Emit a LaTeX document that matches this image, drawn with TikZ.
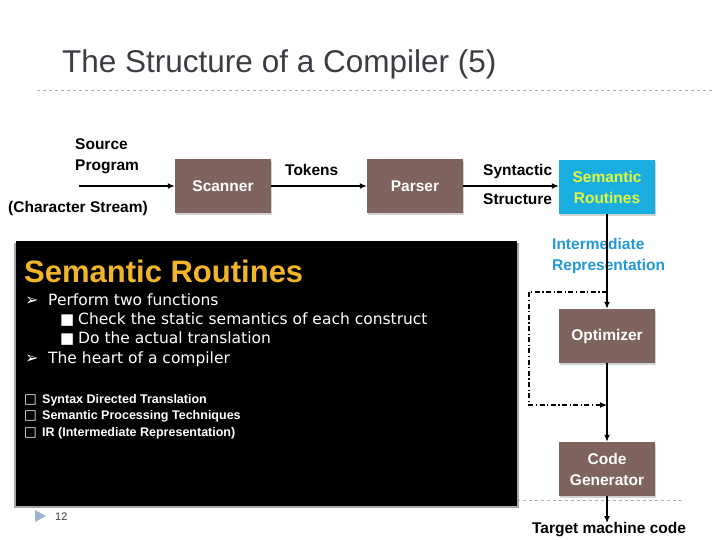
\documentclass[tikz,border=0pt]{standalone}
\usepackage{fontspec}
\setmainfont{Liberation Sans}
\newfontfamily\dejavu{DejaVu Sans}
\usetikzlibrary{arrows.meta,shadows}
\definecolor{titlegray}{HTML}{3C3C46}
\definecolor{boxbrown}{HTML}{7F645D}
\definecolor{semcyan}{HTML}{1AAEE0}
\definecolor{semtext}{HTML}{E2FA3C}
\definecolor{irblue}{HTML}{2299D6}
\definecolor{orangey}{HTML}{F2B52A}
\definecolor{footblue}{HTML}{9FB3CC}
\begin{document}
\begin{tikzpicture}[x=1pt,y=-1pt,
  stagebox/.style={draw=none,fill=boxbrown,minimum width=96pt,minimum height=54pt,
     text=white,font=\fontsize{15.5}{21}\selectfont\bfseries,align=center,
     drop shadow={shadow xshift=1pt,shadow yshift=-2pt,opacity=0.35}},
  lbl/.style={font=\fontsize{15.5}{21}\selectfont\bfseries,align=left,inner sep=0pt},
  arr/.style={-{Latex[length=7pt,width=6pt]},line width=1.3pt},
  bodytxt/.style={text=white,font=\dejavu\fontsize{15.5}{18}\selectfont,anchor=base west,inner sep=0pt},
  smalltxt/.style={text=white,font=\fontsize{12.5}{14}\selectfont\bfseries,anchor=base west,inner sep=0pt}]
\useasboundingbox (0,0) rectangle (720,540);
\fill[white] (0,0) rectangle (720,540);
% title
\node[anchor=base west,inner sep=0pt,text=titlegray,font=\fontsize{31.5}{34}\selectfont] (title) at (62,73) {The Structure of a Compiler (5)};
\draw[gray!60,dashed,line width=0.6pt] (37,90) -- (713,90);
\draw[gray!60,dashed,line width=0.6pt] (37,500) -- (685,500);
% stages
\node[stagebox] (scan) at (223,186) {Scanner};
\node[stagebox] (pars) at (415,186) {Parser};
\node[stagebox,fill=semcyan,text=semtext] (sem) at (607,187) {Semantic\\Routines};
\node[stagebox] (opt) at (607,336) {Optimizer};
\node[stagebox] (cg) at (607,469) {Code\\Generator};
% labels
\node[lbl,anchor=base west] (src) at (75,171) {Source\\Program};
\node[lbl,anchor=base west] (chs) at (8,213) {(Character Stream)};
\node[lbl,anchor=base west] (tok) at (285,176) {Tokens};
\node[lbl,anchor=base west] (syn) at (483,176) {Syntactic};
\node[lbl,anchor=base west] (str) at (483,205) {Structure};
\node[lbl,anchor=base west,text=irblue] (ir) at (552,270) {Intermediate\\Representation};
\node[lbl,anchor=base] (tgt) at (609,533) {Target machine code};
\coordinate (srcstart) at (79,186);
% connectors
\draw[arr] (srcstart) -- (scan.west);
\draw[arr] (scan.east) -- (pars.west);
\draw[arr] (pars.east) -- (sem.west |- pars.east);
\draw[arr] (sem.south) -- (opt.north);
\draw[arr] (opt.south) -- (cg.north);
\coordinate (tgtend) at (607,523);
\draw[arr] (cg.south) -- (tgtend);
\coordinate (bypassA) at (607,292);
\coordinate (bypassB) at (529,292);
\coordinate (bypassC) at (529,405);
\coordinate (bypassD) at (607,405);
\draw[line width=1.2pt,dash pattern=on 5pt off 2.5pt on 1.2pt off 2.5pt,-{Latex[length=7pt,width=6pt]}] (bypassA) -- (bypassB) -- (bypassC) -- (bypassD);
% black box
\fill[gray!70] (14,243) rectangle (519,508);
\fill[black] (16,241) rectangle (517,506);
\node[anchor=base west,inner sep=0pt,text=orangey,font=\fontsize{31}{34}\selectfont\bfseries] (sr) at (24,282) {Semantic Routines};
\node[bodytxt] (b1m) at (25,305) {\fontsize{16}{18}\selectfont ➢};
\node[bodytxt] (b1) at (48,305) {Perform two functions};
\node[bodytxt] (b2m) at (60,324) {\fontsize{15}{17}\selectfont ■};
\node[bodytxt] (b2) at (78,324) {Check the static semantics of each construct};
\node[bodytxt] (b3m) at (60,343) {\fontsize{15}{17}\selectfont ■};
\node[bodytxt] (b3) at (78,343) {Do the actual translation};
\node[bodytxt] (b4m) at (25,363) {\fontsize{16}{18}\selectfont ➢};
\node[bodytxt] (b4) at (48,363) {The heart of a compiler};
\node[smalltxt] (c1m) at (24,403) {\dejavu\fontsize{13.5}{15}\selectfont □};
\node[smalltxt] (c1) at (42,403) {Syntax Directed Translation};
\node[smalltxt] (c2m) at (24,419) {\dejavu\fontsize{13.5}{15}\selectfont □};
\node[smalltxt] (c2) at (42,419) {Semantic Processing Techniques};
\node[smalltxt] (c3m) at (24,436) {\dejavu\fontsize{13.5}{15}\selectfont □};
\node[smalltxt] (c3) at (42,436) {IR (Intermediate Representation)};
% footer
\fill[footblue] (35,510) -- (46,516) -- (35,522) -- cycle;
\node[anchor=base west,inner sep=0pt,font=\fontsize{11}{13}\selectfont,text=titlegray] (pg) at (55,520) {12};
\end{tikzpicture}
\end{document}
